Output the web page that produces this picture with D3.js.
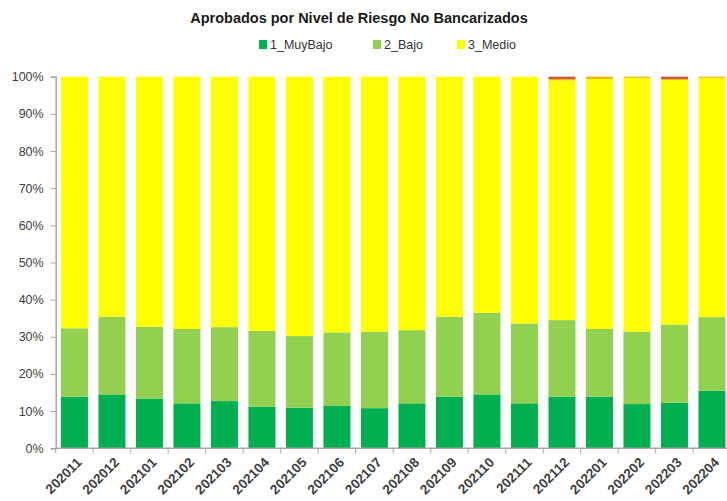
<!DOCTYPE html>
<html>
<head>
<meta charset="utf-8">
<script src="https://cdn.jsdelivr.net/npm/d3@7"></script>
<style>
  body { margin: 0; background: #fff; }
  svg { display: block; font-family: "Liberation Sans", "DejaVu Sans", sans-serif; }
</style>
</head>
<body>
<svg id="svg1" width="727" height="501"></svg>
<script>
// periods on the x axis
var periodos = ['202011','202012','202101','202102','202103','202104','202105','202106','202107',
                '202108','202109','202110','202111','202112','202201','202202','202203','202204'];

// share of approvals per risk level (percent)
var muyBajo = [13.9, 14.5, 13.4, 12.1, 12.7, 11.2, 10.9, 11.4, 10.8, 12.1, 13.9, 14.5, 12.1, 13.9, 13.9, 11.9, 12.3, 15.5];
var bajo    = [18.4, 20.9, 19.3, 20.0, 19.9, 20.4, 19.3, 19.8, 20.6, 19.7, 21.5, 22.0, 21.5, 20.6, 18.2, 19.5, 21.0, 19.8];
var alto    = [0, 0, 0, 0, 0, 0, 0, 0, 0, 0, 0, 0, 0, 0.4, 0.6, 0.3, 0.3, 0.3];
var muyAlto = [0, 0, 0, 0, 0, 0, 0, 0, 0, 0, 0, 0, 0, 0.6, 0, 0, 0.6, 0];
// medio is the rest up to 100%
var medio = periodos.map(function(p, i) { return 100 - muyBajo[i] - bajo[i] - alto[i] - muyAlto[i]; });

var yTicks = [0, 10, 20, 30, 40, 50, 60, 70, 80, 90, 100];

var series = [
  { key: '1_MuyBajo', values: muyBajo, color: '#00b050', legend: true },
  { key: '2_Bajo',    values: bajo,    color: '#92d050', legend: true },
  { key: '3_Medio',   values: medio,   color: '#ffff00', legend: true },
  { key: '4_Alto',    values: alto,    color: '#f5b400', legend: false },
  { key: '5_MuyAlto', values: muyAlto, color: '#c8504d', legend: false }
];

var rows = periodos.map(function(p, i) {
  var r = { periodo: p };
  series.forEach(function(s) { r[s.key] = s.values[i]; });
  return r;
});

var svg = d3.select('svg');

var x = d3.scaleBand()
          .domain(periodos)
          .range([55.7, 730.7])
          .paddingInner(0.28)
          .paddingOuter(0.14);

var y = d3.scaleLinear()
          .domain([0, 100])
          .range([448.3, 76.7]);

var stack = d3.stack().keys(series.map(function(s) { return s.key; }));
var stacked = stack(rows);

// title
svg.append('text')
   .attr('x', 359)
   .attr('y', 23)
   .attr('text-anchor', 'middle')
   .attr('font-size', 14.5)
   .attr('font-weight', 'bold')
   .attr('fill', '#1a1a1a')
   .text('Aprobados por Nivel de Riesgo No Bancarizados');

// legend
var legendX = [259, 373, 457];
var legend = svg.append('g').attr('class', 'legend')
   .selectAll('g')
   .data(series.filter(function(s) { return s.legend; }))
   .enter()
   .append('g')
   .attr('transform', function(d, i) { return 'translate(' + legendX[i] + ',40)'; });

legend.append('rect')
      .attr('width', 8)
      .attr('height', 9)
      .attr('fill', function(d) { return d.color; });

legend.append('text')
      .attr('x', 11)
      .attr('y', 9)
      .attr('font-size', 12.5)
      .attr('fill', '#333')
      .text(function(d) { return d.key; });

// bars
svg.append('g')
   .attr('class', 'bars')
   .selectAll('g')
   .data(stacked)
   .enter()
   .append('g')
   .attr('fill', function(d, i) { return series[i].color; })
   .selectAll('rect')
   .data(function(d) { return d; })
   .enter()
   .append('rect')
   .attr('x', function(d) { return x(d.data.periodo); })
   .attr('width', x.bandwidth())
   .attr('y', function(d) { return y(d[1]); })
   .attr('height', function(d) { return y(d[0]) - y(d[1]); });

// y axis
var yAxis = svg.append('g')
   .attr('transform', 'translate(55.7,0)')
   .call(d3.axisLeft(y)
           .tickValues(yTicks)
           .tickSize(5)
           .tickPadding(7)
           .tickFormat(function(d) { return d + '%'; }));

yAxis.select('.domain').attr('stroke', '#a6a6a6').attr('stroke-width', 1.5);
yAxis.selectAll('.tick line').attr('stroke', '#a6a6a6');
yAxis.selectAll('.tick text')
     .attr('font-size', 12.5)
     .attr('font-family', '"Liberation Sans", sans-serif')
     .attr('fill', '#404040');

// x axis line and ticks between bands
var xg = svg.append('g').attr('class', 'x-axis');

xg.append('line')
  .attr('x1', 55.7)
  .attr('x2', 727)
  .attr('y1', y(0))
  .attr('y2', y(0))
  .attr('stroke', '#a6a6a6')
  .attr('stroke-width', 1.5);

xg.selectAll('line.tick')
  .data(periodos)
  .enter()
  .append('line')
  .attr('class', 'tick')
  .attr('x1', function(d) { return x(d) - x.step() * x.paddingInner() / 2; })
  .attr('x2', function(d) { return x(d) - x.step() * x.paddingInner() / 2; })
  .attr('y1', y(0))
  .attr('y2', y(0) + 5)
  .attr('stroke', '#a6a6a6');

xg.selectAll('text')
  .data(periodos)
  .enter()
  .append('text')
  .attr('transform', function(d) {
    return 'translate(' + (x(d) + x.bandwidth() / 2 + 8) + ',' + (y(0) + 15) + ') rotate(-45)';
  })
  .attr('text-anchor', 'end')
  .attr('font-size', 13.5)
  .attr('font-weight', 'bold')
  .attr('fill', '#404040')
  .text(function(d) { return d; });
</script>
</body>
</html>
